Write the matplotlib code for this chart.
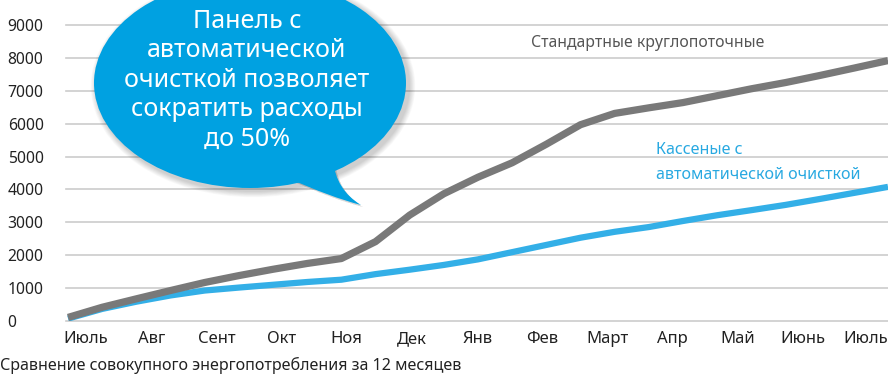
import numpy as np
import matplotlib
matplotlib.use("Agg")
import matplotlib.pyplot as plt
from matplotlib.patches import Ellipse, PathPatch
from matplotlib.path import Path
from matplotlib.transforms import Affine2D

plt.rcParams['font.family'] = ['Noto Sans', 'DejaVu Sans']

# half-month steps from July to the following July
steps = np.arange(25) / 2.0
standard = [100, 410, 667, 920, 1165, 1375, 1568, 1745, 1895, 2410, 3220, 3870, 4375,
            4815, 5380, 5975, 6320, 6490, 6650, 6860, 7070, 7260, 7475, 7700, 7930]
cassette = [65, 360, 580, 770, 920, 1010, 1095, 1180, 1250, 1420, 1555, 1700, 1870,
            2090, 2310, 2530, 2710, 2855, 3040, 3215, 3370, 3530, 3710, 3895, 4080]

months = ['Июль', 'Авг', 'Сент', 'Окт', 'Ноя', 'Дек', 'Янв', 'Фев', 'Март',
          'Апр', 'Май', 'Июнь', 'Июль']
y_ticks = [0, 1000, 2000, 3000, 4000, 5000, 6000, 7000, 8000, 9000]

W, H = 888, 374
fig = plt.figure(figsize=(W / 100, H / 100), dpi=100)

ax = fig.add_axes([66 / W, (H - 320.7) / H, (W - 66) / W, 320.7 / H])
ax.set_xlim(-0.03, 12)
ax.set_ylim(0, 9777)

ax.plot(steps, cassette, color='#33afe7', lw=4.5, solid_capstyle='butt',
        solid_joinstyle='round', zorder=3)
ax.plot(steps, standard, color='#797979', lw=5.2, solid_capstyle='butt',
        solid_joinstyle='round', zorder=4)

ax.set_yticks(y_ticks)
ax.set_yticklabels([str(v) for v in y_ticks], ha='left', fontsize=11.3, color='#222222')
ax.tick_params(axis='y', length=0, pad=42)
ax.yaxis.grid(True, color='#cccccc', lw=1.2)
for gl in ax.get_ygridlines():
    gl.set_clip_on(False)

# month names sit a little right of each month mark; the last one is kept inside the frame
month_pos = 0.263 + 0.954 * np.arange(len(months))
month_pos[-1] -= 0.04
ax.set_xticks(month_pos)
ax.set_xticklabels(months, fontsize=12, color='#222222')
ax.tick_params(axis='x', length=0, pad=7.5)
for s in ax.spines.values():
    s.set_visible(False)

# overlay in pixel units for the speech bubble, series names and caption
ov = fig.add_axes([0, 0, 1, 1])
ov.set_xlim(0, W)
ov.set_ylim(H, 0)
ov.axis('off')
ov.patch.set_alpha(0)

ov.text(648, 43, 'Стандартные круглопоточные', ha='center', va='center',
        fontsize=11.4, color='#555555')
ov.text(656, 150, 'Кассеные с', ha='left', va='center', fontsize=11.6, color='#29a9e1')
ov.text(656, 175, 'автоматической очисткой', ha='left', va='center',
        fontsize=11.6, color='#29a9e1')

bubble_blue = '#00a1e1'
tail = Path([(288, 178), (330, 197), (361, 205), (336, 190), (333, 160), (288, 178)],
            [Path.MOVETO, Path.CURVE3, Path.CURVE3, Path.CURVE3, Path.CURVE3, Path.CLOSEPOLY])

# soft shadow
for i in range(8):
    g = 2 + i * 1.5
    ov.add_patch(Ellipse((253, 86), 312 + g, 210 + g, color='black', alpha=0.025, lw=0))
    ov.add_patch(PathPatch(tail.transformed(Affine2D().translate(2, 2)),
                           color='black', alpha=0.02, lw=0))

ov.add_patch(Ellipse((250, 83), 312, 210, color=bubble_blue, lw=0))
ov.add_patch(PathPatch(tail, color=bubble_blue, lw=0))

bubble_lines = ['Панель с', 'автоматической', 'очисткой позволяет',
                'сократить расходы', 'до 50%']
for i, line in enumerate(bubble_lines):
    ov.text(247, 21 + 29.5 * i, line, ha='center', va='center',
            fontsize=18, color='white')

ov.text(0, 365, 'Сравнение совокупного энергопотребления за 12 месяцев',
        ha='left', va='center', fontsize=11.6, color='#222222')

fig.savefig('out.png', dpi=100)
